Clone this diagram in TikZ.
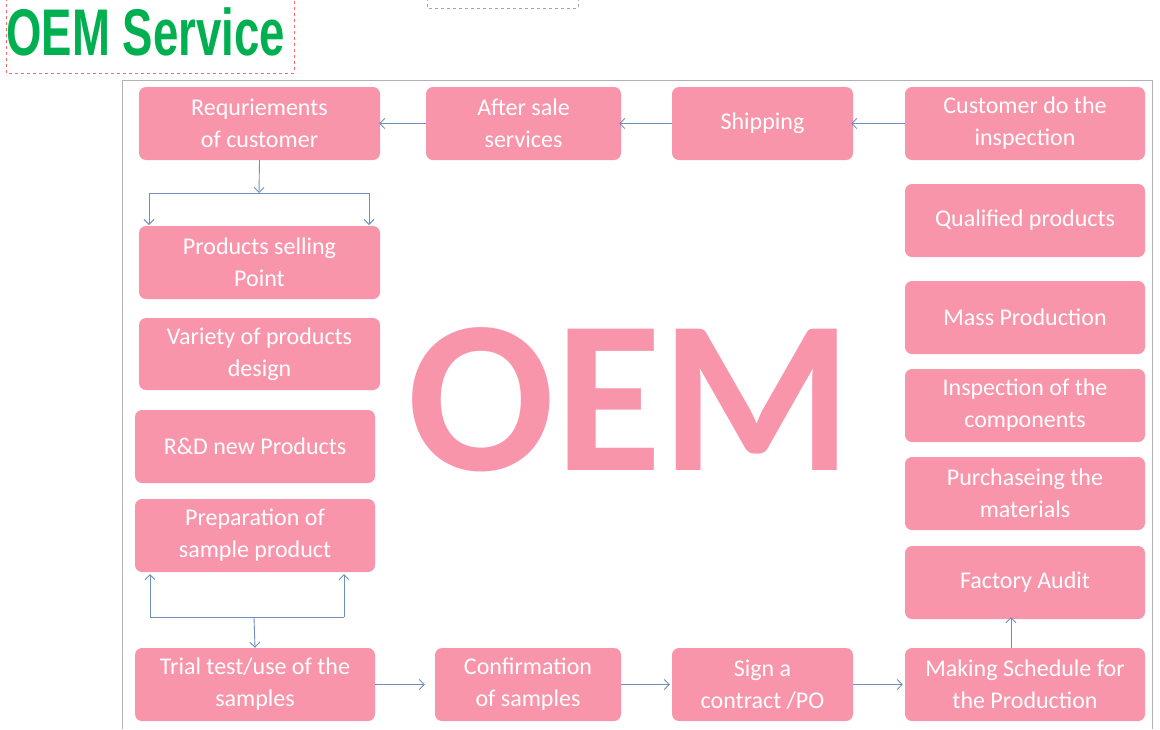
\documentclass[tikz,border=0pt]{standalone}
\usepackage{fontspec}
\setmainfont{Carlito}
\newfontfamily\titlefont{Liberation Sans}
\usetikzlibrary{arrows.meta}
\definecolor{pk}{HTML}{F995AB}
\definecolor{ln}{HTML}{6F8FBF}
\definecolor{tg}{HTML}{00B050}
\begin{document}
\begin{tikzpicture}[x=1pt,y=-1pt,
 bx/.style={fill=pk,draw=none,rounded corners=7pt,text=white,font=\fontsize{24}{32}\selectfont,align=center,inner sep=0pt},
 ar/.style={draw=ln,line width=0.9pt,-{Straight Barb[length=5pt,width=10pt]}},
 ln/.style={draw=ln,line width=0.9pt}]
\useasboundingbox (0,0) rectangle (1160,729);
\draw[red!60,dashed,line width=0.6pt] (6,-2) rectangle (294,73);
\draw[gray!70,dashed,line width=0.6pt] (427,-2) rectangle (578,8);
\node[text=tg,font=\titlefont\bfseries\fontsize{66}{66}\selectfont,xscale=0.69,anchor=west] (title) at (4,32) {OEM Service};
\draw[gray!60,line width=0.8pt] (122,729) -- (122,80) -- (1152,80) -- (1152,729);
\node[text=pk,font=\bfseries\fontsize{218}{218}\selectfont] (oem) at (630,400) {OEM};
\newcommand{\bxat}[6]{\node[bx,minimum width={#4-#2},minimum height={#5-#3}] (#1) at ({(#2+#4)/2},{(#3+#5)/2}) {#6};}
\bxat{req}{139}{87}{380}{160}{Requriements\\of customer}
\bxat{after}{426}{87}{621}{160}{After sale\\services}
\bxat{ship}{672}{87}{853}{160}{Shipping}
\bxat{cust}{905}{87}{1145}{160}{Customer do the\\inspection}
\bxat{sell}{139}{226}{380}{299}{Products selling\\Point}
\bxat{var}{139}{318}{380}{390}{Variety of products\\design}
\bxat{rd}{135}{410}{375}{483}{R\&D new Products}
\bxat{prep}{135}{499}{375}{572}{Preparation of\\sample product}
\bxat{trial}{135}{648}{375}{721}{Trial test/use of the\\samples}
\bxat{conf}{435}{648}{621}{721}{Confirmation\\of samples}
\bxat{sign}{672}{648}{853}{721}{Sign a\\contract /PO}
\bxat{make}{905}{648}{1145}{721}{Making Schedule for\\the Production}
\bxat{fact}{905}{546}{1145}{619}{Factory Audit}
\bxat{purch}{905}{457}{1145}{530}{Purchaseing the\\materials}
\bxat{insp}{905}{369}{1145}{442}{Inspection of the\\components}
\bxat{mass}{905}{281}{1145}{354}{Mass Production}
\bxat{qual}{905}{184}{1145}{257}{Qualified products}
\coordinate (t1) at (259,193);
\coordinate (t2) at (149,193);
\coordinate (t3) at (369,193);
\draw[ar] (req.south) -- (t1);
\draw[ln] (t2) -- (t3);
\draw[ar] (t2) -- (149,225);
\draw[ar] (t3) -- (369,225);
\coordinate (b1) at (254,617);
\coordinate (b2) at (150,617);
\coordinate (b3) at (344,617);
\draw[ln] (b2) -- (b3);
\draw[ar] (b2) -- (150,574);
\draw[ar] (b3) -- (344,574);
\draw[ar] (b1) -- (trial.north);
\draw[ar] (after.west) -- ([xshift=-1pt]req.east);
\draw[ar] (ship.west) -- ([xshift=-2pt]after.east);
\draw[ar] (cust.west) -- ([xshift=-2pt]ship.east);
\draw[ar] (trial.east) -- ([xshift=-10pt]conf.west);
\draw[ar] (conf.east) -- ([xshift=-2pt]sign.west);
\draw[ar] (sign.east) -- ([xshift=-2pt]make.west);
\draw[ar] ([xshift=-14pt]make.north) -- ([xshift=-14pt,yshift=2pt]fact.south);
\end{tikzpicture}
\end{document}
